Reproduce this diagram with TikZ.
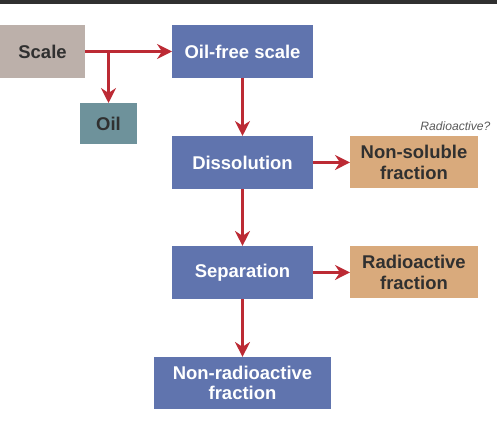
\documentclass[tikz,border=0pt]{standalone}
\usepackage{fontspec}
\setmainfont{Liberation Sans}
\usetikzlibrary{positioning,arrows.meta}

\definecolor{boxblue}{RGB}{96,116,174}
\definecolor{boxtan}{RGB}{217,170,124}
\definecolor{boxgrey}{RGB}{188,176,170}
\definecolor{boxteal}{RGB}{110,146,155}
\definecolor{arrowred}{RGB}{188,42,52}
\definecolor{textdark}{RGB}{48,48,48}

\begin{document}
\begin{tikzpicture}[x=0.02cm,y=-0.02cm,>={Stealth[length=8.5pt,width=8.5pt]},line width=1.7pt,
                    main node/.style={inner sep=0pt,outer sep=0pt,align=center,font=\fontsize{10.5}{11.6}\selectfont\bfseries},
                    blue node/.style={main node,fill=boxblue,text=white,minimum width=2.82cm,minimum height=1.06cm},
                    tan node/.style={main node,fill=boxtan,text=textdark,minimum width=2.56cm,minimum height=1.04cm},
                    flow/.style={->,color=arrowred}]
                        \useasboundingbox (0,0) rectangle (500,425);
                        \fill[textdark] (0,0) rectangle (497,4);

                        \node[blue node] (oilfree) at (242.5,51.5) {Oil-free scale};
                        \node[main node,fill=boxgrey,text=textdark,minimum width=1.7cm,minimum height=1.06cm] (scale) [left=1.74cm of oilfree] {Scale};
                        \node[main node,fill=boxteal,text=textdark,minimum width=1.14cm,minimum height=0.82cm] (oil) at (108.5,123.5) {Oil};

                        \node[blue node] (dissolution) [below=1.16cm of oilfree] {Dissolution};
                        \node[blue node] (separation) [below=1.14cm of dissolution] {Separation};
                        \node[blue node,minimum width=3.54cm,minimum height=1.04cm] (nonradio) [below=1.16cm of separation] {Non-radioactive\\fraction};

                        \node[tan node] (nonsoluble) [right=0.74cm of dissolution] {Non-soluble\\fraction};
                        \node[tan node] (radio) [right=0.74cm of separation] {Radioactive\\fraction};
                        \node[font=\fontsize{6.9}{8}\selectfont\itshape,text=textdark!80,inner sep=0pt,anchor=south east] (question) at ([xshift=0.28cm,yshift=0.08cm]nonsoluble.north east) {Radioactive?};

                        \coordinate (split) at (oil |- scale);

                        \path[flow]
                                (scale) edge  (oilfree)
                                (split) edge  (oil)
                                (oilfree) edge  (dissolution)
                                (dissolution) edge  (separation)
                                (separation) edge  (nonradio)

                                (dissolution) edge  (nonsoluble)
                                (separation) edge  (radio)
                            ;
                    \end{tikzpicture}
\end{document}
